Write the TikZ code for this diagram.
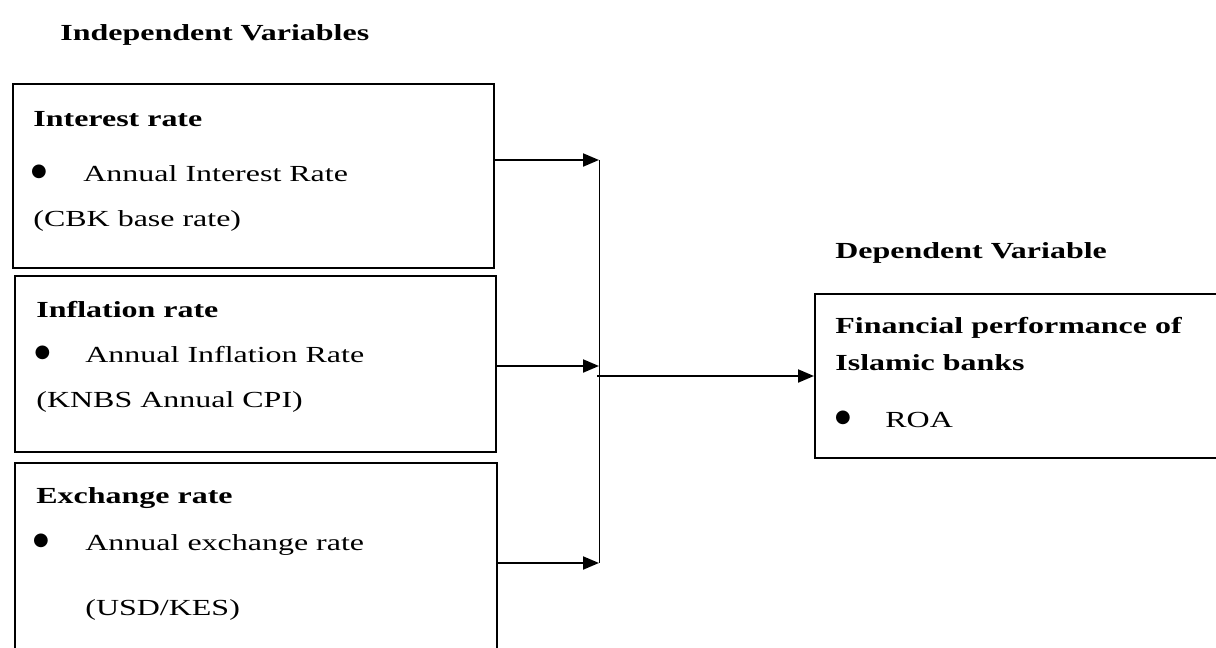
\documentclass[tikz,border=0pt]{standalone}
\usepackage{fontspec}
\setmainfont[FakeStretch=1.39]{Liberation Serif}
\newfontfamily\dotfont{DejaVu Sans}
\usetikzlibrary{arrows.meta}

\tikzstyle{varbox} = [draw,line width=1pt,inner sep=0pt]
\tikzstyle{heading} = [font=\bfseries,anchor=base west,inner sep=0pt]
\tikzstyle{item} = [anchor=base west,inner sep=0pt]
\tikzstyle{bulletdot} = [font=\dotfont\fontsize{9}{9}\selectfont,anchor=center,inner sep=0pt]
\tikzstyle{arrowdecorate} = [-{Triangle[length=8pt,width=6.5pt]},line width=1pt]
\tikzstyle{link} = [draw,line width=0.5pt]

\begin{document}
\fontsize{11.5}{13}\selectfont
\begin{tikzpicture}[x=0.5pt,y=-0.5pt]
      \useasboundingbox (0,0) rectangle (1216,648);
      \clip (0,0) rectangle (1216,648);
      %boxes
      \foreach \nodename/\x/\y/\w/\h in {
        interest/253.5/176/240.5/92,
        inflation/255.5/364/240.5/88,
        exchange/256/561.5/241/98.5,
        perf/1022.5/376/207.5/82}
      {
        \node[varbox,minimum width=\w pt,minimum height=\h pt] (\nodename) at (\x,\y) {};
      };
      %headings
      \foreach \nodename/\x/\y/\text in {
        hindep/60/40/{Independent Variables},
        hdep/835/258/{Dependent Variable},
        hint/33/126/{Interest rate},
        hinf/36/317/{Inflation rate},
        hexc/36/503/{Exchange rate},
        hperf/835/333/{Financial performance of},
        hbank/835/370/{Islamic banks}}
      {
        \node[heading] (\nodename) at (\x,\y) {\text};
      };
      %bullets
      \foreach \nodename/\x/\y in {b1/39/172, b2/42.5/353, b3/41/541, b4/843/418}
      {
        \node[bulletdot] (\nodename) at (\x,\y) {●};
      };
      %items
      \foreach \nodename/\x/\y/\text in {
        i1/83/181/{Annual Interest Rate}, i2/33/226/{(CBK base rate)},
        i3/85/362/{Annual Inflation Rate}, i4/36/407/{(KNBS Annual CPI)},
        i5/85/550/{Annual exchange rate}, i6/85/615/{(USD/KES)},
        i7/885/427/{ROA}}
      {
        \node[item] (\nodename) at (\x,\y) {\text};
      };
      %edges
      \coordinate (j1) at (599,160);
      \coordinate (j2) at (599,366);
      \coordinate (j3) at (599,563);
      \coordinate (jm) at (597,376);
      \path[link] (j1) -- (j3);
      \foreach \startnode/\endnode in {interest/j1, inflation/j2, exchange/j3}
      {
        \draw[arrowdecorate] (\startnode.east |- \endnode) -- (\endnode);
      };
      \draw[arrowdecorate] (jm) -- (perf.west);
    \end{tikzpicture}
\end{document}
